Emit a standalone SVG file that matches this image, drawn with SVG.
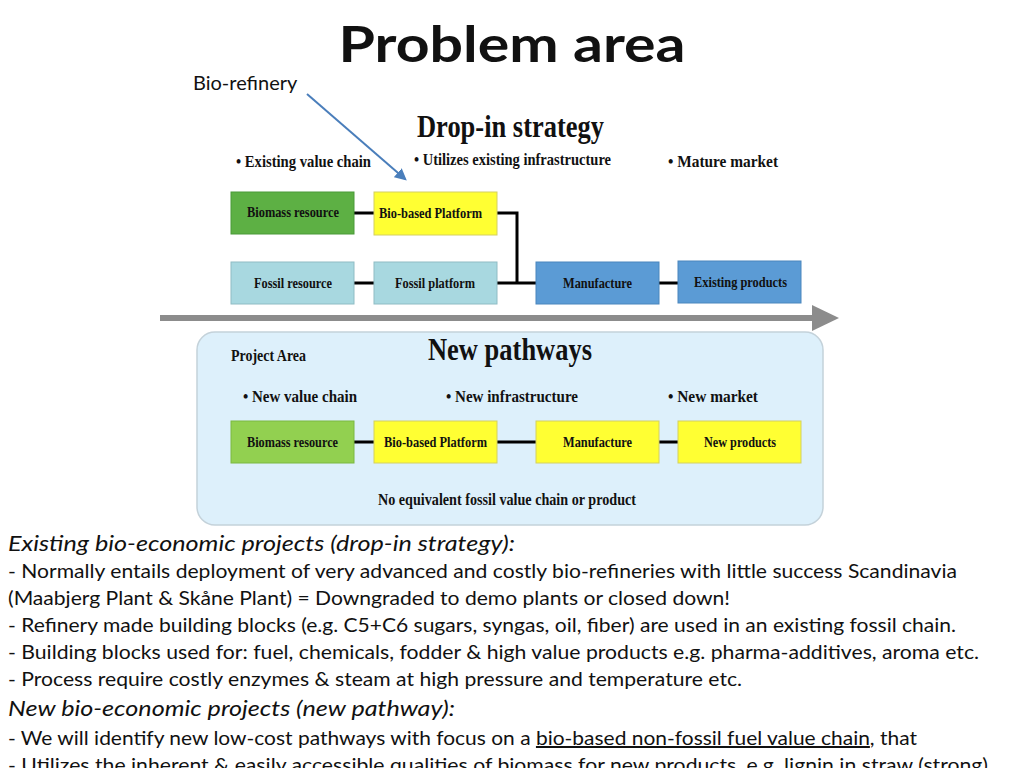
<svg xmlns="http://www.w3.org/2000/svg" width="1024" height="768" viewBox="0 0 1024 768">
<defs>
<style>
.ser{font-family:"Liberation Serif","Times New Roman",serif;font-weight:bold;fill:#111}
.bl{font-size:16px}
.bx{font-size:14px}
.hd{font-size:31px}
.box{stroke-width:1}
.con{stroke:#000;stroke-width:3;fill:none}
.txt{font-family:Lato,"Liberation Sans",sans-serif;font-size:20px;fill:#111}
.it{font-style:italic;font-size:22px}
</style>
<marker id="blueHead" viewBox="0 0 10 10" refX="8" refY="5" markerWidth="6" markerHeight="6" orient="auto" markerUnits="strokeWidth"><path d="M0,0 L10,5 L0,10 z" fill="#4A7EBB"/></marker>
</defs>
<rect width="1024" height="768" fill="#fff"/>
<text x="512" y="62" text-anchor="middle" font-family="Lato,'Liberation Sans',sans-serif" font-weight="bold" font-size="50" textLength="347" lengthAdjust="spacingAndGlyphs" fill="#111">Problem area</text>
<text x="193" y="90" font-family="Lato,'Liberation Sans',sans-serif" font-size="20" fill="#111">Bio-refinery</text>
<line x1="307" y1="94" x2="405" y2="179" stroke="#4A7EBB" stroke-width="2" marker-end="url(#blueHead)"/>

<text class="ser hd" x="417" y="137" textLength="187" lengthAdjust="spacingAndGlyphs">Drop-in strategy</text>
<text class="ser bl" x="236" y="167" textLength="135" lengthAdjust="spacingAndGlyphs">•  Existing value chain</text>
<text class="ser bl" x="414" y="165" textLength="197" lengthAdjust="spacingAndGlyphs">•  Utilizes existing infrastructure</text>
<text class="ser bl" x="668" y="167" textLength="110" lengthAdjust="spacingAndGlyphs">•  Mature market</text>

<g id="connectors">
<line class="con" x1="354" y1="213" x2="374" y2="213"/>
<line class="con" x1="354" y1="283" x2="374" y2="283"/>
<polyline class="con" points="497,213 517,213 517,283"/>
<line class="con" x1="497" y1="283" x2="536" y2="283"/>
<line class="con" x1="659" y1="283" x2="678" y2="283"/>
<line x1="160" y1="318" x2="818" y2="318" stroke="#8C8C8C" stroke-width="6"/>
<path d="M812,305 L839,318 L812,331 z" fill="#8C8C8C"/>
</g>

<g id="n-biomass1"><rect class="box" x="231" y="192" width="123" height="42" fill="#5DB044" stroke="#4a9a38"/><text class="ser bx" x="247" y="217" textLength="92" lengthAdjust="spacingAndGlyphs">Biomass resource</text></g>
<g id="n-biobased1"><rect class="box" x="374" y="192" width="123" height="43" fill="#FFFF33" stroke="#d4d060"/><text class="ser bx" x="379" y="218" textLength="103" lengthAdjust="spacingAndGlyphs">Bio-based Platform</text></g>
<g id="n-fossilres"><rect class="box" x="231" y="262" width="123" height="42" fill="#A8D8E0" stroke="#8fbcc4"/><text class="ser bx" x="254" y="288" textLength="78" lengthAdjust="spacingAndGlyphs">Fossil resource</text></g>
<g id="n-fossilplat"><rect class="box" x="374" y="262" width="123" height="42" fill="#A8D8E0" stroke="#8fbcc4"/><text class="ser bx" x="395" y="288" textLength="80" lengthAdjust="spacingAndGlyphs">Fossil platform</text></g>
<g id="n-manuf1"><rect class="box" x="536" y="262" width="123" height="42" fill="#5B9BD5" stroke="#4a86bd"/><text class="ser bx" x="563" y="288" textLength="69" lengthAdjust="spacingAndGlyphs">Manufacture</text></g>
<g id="n-existprod"><rect class="box" x="678" y="261" width="123" height="42" fill="#5B9BD5" stroke="#4a86bd"/><text class="ser bx" x="694" y="287" textLength="93" lengthAdjust="spacingAndGlyphs">Existing products</text></g>

<g id="n-projectarea">
<rect x="197" y="332" width="626" height="193" rx="18" fill="#DDF0FB" stroke="#c4d2da" stroke-width="1.5"/>
<text class="ser bl" x="231" y="361" textLength="75" lengthAdjust="spacingAndGlyphs">Project Area</text>
<text class="ser hd" x="428" y="360" textLength="164" lengthAdjust="spacingAndGlyphs">New pathways</text>
<text class="ser bl" x="243" y="402" textLength="114" lengthAdjust="spacingAndGlyphs">•  New value chain</text>
<text class="ser bl" x="446" y="402" textLength="132" lengthAdjust="spacingAndGlyphs">•  New infrastructure</text>
<text class="ser bl" x="668" y="402" textLength="90" lengthAdjust="spacingAndGlyphs">•  New market</text>
<text class="ser bl" x="378" y="505" textLength="258" lengthAdjust="spacingAndGlyphs">No equivalent fossil value chain or product</text>
</g>

<g id="connectors2">
<line class="con" x1="354" y1="442" x2="374" y2="442"/>
<line class="con" x1="497" y1="442" x2="536" y2="442"/>
<line class="con" x1="659" y1="442" x2="678" y2="442"/>
</g>

<g id="n-biomass2"><rect class="box" x="231" y="421" width="123" height="42" fill="#92D050" stroke="#7bb840"/><text class="ser bx" x="247" y="447" textLength="91" lengthAdjust="spacingAndGlyphs">Biomass resource</text></g>
<g id="n-biobased2"><rect class="box" x="374" y="421" width="123" height="42" fill="#FFFF33" stroke="#d4d060"/><text class="ser bx" x="384" y="447" textLength="103" lengthAdjust="spacingAndGlyphs">Bio-based Platform</text></g>
<g id="n-manuf2"><rect class="box" x="536" y="421" width="123" height="42" fill="#FFFF33" stroke="#d4d060"/><text class="ser bx" x="563" y="447" textLength="69" lengthAdjust="spacingAndGlyphs">Manufacture</text></g>
<g id="n-newprod"><rect class="box" x="678" y="421" width="123" height="42" fill="#FFFF33" stroke="#d4d060"/><text class="ser bx" x="704" y="447" textLength="72" lengthAdjust="spacingAndGlyphs">New products</text></g>

<g id="bodytext">
<text class="txt it" x="8" y="551" textLength="507" lengthAdjust="spacingAndGlyphs">Existing bio-economic projects (drop-in strategy):</text>
<text class="txt" x="8" y="578" textLength="949" lengthAdjust="spacingAndGlyphs">- Normally entails deployment of very advanced and costly bio-refineries with little success Scandinavia</text>
<text class="txt" x="8" y="605" textLength="722" lengthAdjust="spacingAndGlyphs">(Maabjerg Plant &amp; Skåne Plant) = Downgraded to demo plants or closed down!</text>
<text class="txt" x="8" y="632" textLength="948" lengthAdjust="spacingAndGlyphs">- Refinery made building blocks (e.g. C5+C6 sugars, syngas, oil, fiber) are used in an existing fossil chain.</text>
<text class="txt" x="8" y="659" textLength="971" lengthAdjust="spacingAndGlyphs">- Building blocks used for: fuel, chemicals, fodder &amp; high value products e.g. pharma-additives, aroma etc.</text>
<text class="txt" x="8" y="686" textLength="734" lengthAdjust="spacingAndGlyphs">- Process require costly enzymes &amp; steam at high pressure and temperature etc.</text>
<text class="txt it" x="8" y="716" textLength="447" lengthAdjust="spacingAndGlyphs">New bio-economic projects (new pathway):</text>
<text class="txt" x="8" y="745" textLength="909" lengthAdjust="spacingAndGlyphs">- We will identify new low-cost pathways with focus on a <tspan text-decoration="underline">bio-based non-fossil fuel value chain</tspan>, that</text>
<text class="txt" x="8" y="772" textLength="980" lengthAdjust="spacingAndGlyphs">- Utilizes the inherent &amp; easily accessible qualities of biomass for new products, e.g. lignin in straw (strong)</text>
</g>
</svg>
